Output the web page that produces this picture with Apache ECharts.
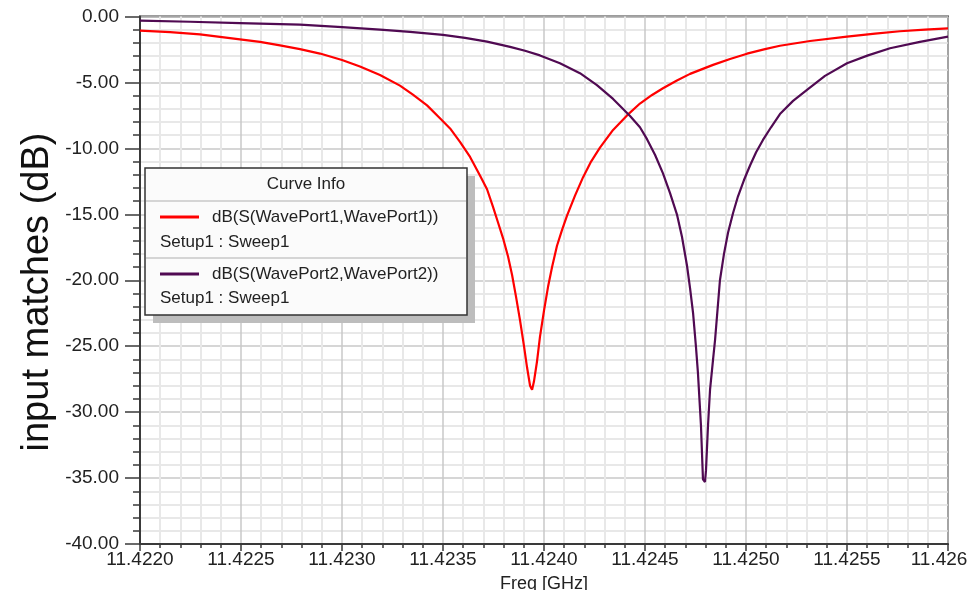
<!DOCTYPE html>
<html>
<head>
<meta charset="utf-8">
<script src="https://cdn.jsdelivr.net/npm/echarts@6/dist/echarts.min.js"></script>
<style>
html,body{margin:0;padding:0;background:#fff;}
#chart{width:971px;height:590px;}
</style>
</head>
<body>
<div id="chart"></div>
<script>
// ---- data ----
var xTickLabels = ['11.4220','11.4225','11.4230','11.4235','11.4240','11.4245','11.4250','11.4255','11.426'];
var yTickLabels = ['-40.00','-35.00','-30.00','-25.00','-20.00','-15.00','-10.00','-5.00','0.00'];

var s11Name = 'dB(S(WavePort1,WavePort1))';
var s22Name = 'dB(S(WavePort2,WavePort2))';
var sweepName = 'Setup1 : Sweep1';

var s11Freq = [11.422000,11.422149,11.422297,11.422495,11.422594,11.422693,11.422792,11.422891,11.423000,11.423089,
               11.423188,11.423287,11.423351,11.423421,11.423485,11.423535,11.423584,11.423634,11.423683,11.423718,
               11.423748,11.423772,11.423797,11.423822,11.423842,11.423861,11.423881,11.423901,11.423916,11.423931,
               11.423941,11.423950,11.423965,11.423980,11.424000,11.424020,11.424040,11.424064,11.424089,11.424114,
               11.424153,11.424193,11.424233,11.424277,11.424342,11.424411,11.424475,11.424535,11.424589,11.424658,
               11.424723,11.424837,11.424921,11.425005,11.425094,11.425168,11.425317,11.425500,11.425639,11.425762,
               11.425886,11.426000];
var s11Db   = [-1.07,-1.19,-1.36,-1.73,-1.93,-2.19,-2.47,-2.81,-3.30,-3.79,
               -4.43,-5.24,-5.93,-6.74,-7.71,-8.49,-9.50,-10.65,-12.05,-13.10,
               -14.45,-15.60,-16.80,-18.20,-19.60,-21.20,-23.00,-25.00,-26.60,-28.00,
               -28.30,-27.70,-26.20,-24.30,-22.30,-20.50,-19.00,-17.40,-16.20,-15.10,
               -13.60,-12.20,-11.00,-9.95,-8.60,-7.50,-6.60,-5.95,-5.44,-4.85,
               -4.35,-3.67,-3.22,-2.82,-2.47,-2.22,-1.86,-1.52,-1.30,-1.12,
               -1.00,-0.90];

var s22Freq = [11.422000,11.422248,11.422495,11.422792,11.423000,11.423188,11.423337,11.423500,11.423609,11.423718,
               11.423832,11.423906,11.423980,11.424079,11.424178,11.424262,11.424342,11.424426,11.424475,11.424510,
               11.424550,11.424589,11.424624,11.424658,11.424683,11.424708,11.424723,11.424738,11.424752,11.424762,
               11.424777,11.424787,11.424797,11.424802,11.424812,11.424822,11.424837,11.424847,11.424871,11.424891,
               11.424911,11.424936,11.424960,11.424990,11.425020,11.425050,11.425084,11.425124,11.425168,11.425233,
               11.425302,11.425391,11.425500,11.425604,11.425713,11.425861,11.426000];
var s22Db   = [-0.32,-0.40,-0.50,-0.62,-0.80,-1.00,-1.17,-1.40,-1.62,-1.91,
               -2.30,-2.60,-2.95,-3.55,-4.30,-5.20,-6.25,-7.55,-8.40,-9.30,
               -10.50,-11.90,-13.40,-15.00,-16.70,-18.90,-20.60,-22.50,-25.00,-27.00,
               -31.00,-35.10,-35.30,-34.40,-31.00,-28.30,-26.00,-24.50,-20.00,-18.00,
               -16.40,-14.90,-13.65,-12.40,-11.30,-10.30,-9.36,-8.40,-7.40,-6.40,
               -5.57,-4.50,-3.55,-2.95,-2.41,-1.92,-1.53];

var xMin = 11.422, xMax = 11.426, xStep = 0.0005;
var yMin = -40, yMax = 0, yStep = 5;

function pairs(xs, ys){ var out=[]; for (var i=0;i<xs.length;i++) out.push([xs[i], ys[i]]); return out; }

var chart = echarts.init(document.getElementById('chart'), null, {renderer:'canvas'});
var FONT = 'Arial, "Liberation Sans", sans-serif';
var RED = '#ff0000', PURPLE = '#500a52';

var option = {
  animation: false,
  backgroundColor: '#ffffff',
  grid: { left: 140, right: 23, top: 16.5, bottom: 46, containLabel: false, outerBoundsMode: 'none',
          show: true, borderColor: '#3a3a3a', borderWidth: 2, backgroundColor: '#ffffff' },
  xAxis: {
    type: 'value', min: xMin, max: xMax, interval: xStep,
    name: 'Freq [GHz]', nameLocation: 'middle', nameGap: 31,
    nameTextStyle: { fontFamily: FONT, fontSize: 18, color: '#222' },
    axisLine: { onZero: false, lineStyle: { color: '#3a3a3a', width: 2 } },
    axisTick: { show: true, length: 7, lineStyle: { color: '#3a3a3a', width: 1.5 } },
    minorTick: { show: true, splitNumber: 5, length: 4, lineStyle: { color: '#3a3a3a', width: 1.5 } },
    splitLine: { show: true, lineStyle: { color: '#c8c8c8', width: 1.5 } },
    minorSplitLine: { show: true, lineStyle: { color: '#e8e8e8', width: 2 } },
    axisLabel: {
      margin: 6, fontFamily: FONT, fontSize: 19, color: '#222',
      showMinLabel: true, showMaxLabel: true, hideOverlap: false,
      rich: { last: { fontFamily: FONT, fontSize: 19, color: '#222', padding: [0, 18, 0, 0] } },
      formatter: function(v){
        var i = Math.round((v - xMin)/xStep);
        var t = xTickLabels[i] || '';
        return (i === xTickLabels.length - 1) ? '{last|' + t + '}' : t;
      }
    }
  },
  yAxis: {
    type: 'value', min: yMin, max: yMax, interval: yStep,
    axisLine: { onZero: false, lineStyle: { color: '#3a3a3a', width: 2 } },
    axisTick: { show: true, length: 15, lineStyle: { color: '#3a3a3a', width: 1.5 } },
    minorTick: { show: true, splitNumber: 5, length: 7, lineStyle: { color: '#3a3a3a', width: 1.5 } },
    splitLine: { show: true, lineStyle: { color: '#c8c8c8', width: 1.5 } },
    minorSplitLine: { show: true, lineStyle: { color: '#e8e8e8', width: 2 } },
    axisLabel: {
      margin: 21, fontFamily: FONT, fontSize: 19, color: '#222',
      formatter: function(v){ var i = Math.round((v - yMin)/yStep); return yTickLabels[i] || ''; }
    }
  },
  series: [
    { name: s11Name, type: 'line', data: pairs(s11Freq, s11Db), showSymbol: false, symbol: 'none',
      smooth: false, lineStyle: { color: RED, width: 2.2 }, itemStyle: { color: RED }, z: 3 },
    { name: s22Name, type: 'line', data: pairs(s22Freq, s22Db), showSymbol: false, symbol: 'none',
      smooth: false, lineStyle: { color: PURPLE, width: 2.2 }, itemStyle: { color: PURPLE }, z: 3 }
  ],
  graphic: [
    { type: 'text', x: 38, y: 292, rotation: Math.PI/2, z: 10,
      style: { text: 'input matches (dB)', font: '38px ' + FONT, fill: '#111', align: 'center', verticalAlign: 'middle' } },
    // legend box (Curve Info)
    { type: 'rect', z: 100, shape: { x: 153, y: 176, width: 322, height: 147 }, style: { fill: '#bdbdbd' } },
    { type: 'rect', z: 101, shape: { x: 145, y: 168, width: 322, height: 147 }, style: { fill: '#fbfbfb', stroke: '#333', lineWidth: 1.5 } },
    { type: 'line', z: 102, shape: { x1: 146, y1: 201, x2: 466, y2: 201 }, style: { stroke: '#c8c8c8', lineWidth: 1.5 } },
    { type: 'line', z: 102, shape: { x1: 146, y1: 258, x2: 466, y2: 258 }, style: { stroke: '#c8c8c8', lineWidth: 1.5 } },
    { type: 'text', z: 103, x: 306, y: 184, style: { text: 'Curve Info', font: '17px ' + FONT, fill: '#222', align: 'center', verticalAlign: 'middle' } },
    { type: 'line', z: 103, shape: { x1: 160, y1: 217, x2: 199, y2: 217 }, style: { stroke: RED, lineWidth: 3 } },
    { type: 'text', z: 103, x: 212, y: 217, style: { text: s11Name, font: '17px ' + FONT, fill: '#222', align: 'left', verticalAlign: 'middle' } },
    { type: 'text', z: 103, x: 160, y: 242, style: { text: sweepName, font: '17px ' + FONT, fill: '#222', align: 'left', verticalAlign: 'middle' } },
    { type: 'line', z: 103, shape: { x1: 160, y1: 274, x2: 199, y2: 274 }, style: { stroke: PURPLE, lineWidth: 3 } },
    { type: 'text', z: 103, x: 212, y: 274, style: { text: s22Name, font: '17px ' + FONT, fill: '#222', align: 'left', verticalAlign: 'middle' } },
    { type: 'text', z: 103, x: 160, y: 298, style: { text: sweepName, font: '17px ' + FONT, fill: '#222', align: 'left', verticalAlign: 'middle' } }
  ]
};
chart.setOption(option);
</script>
</body>
</html>
